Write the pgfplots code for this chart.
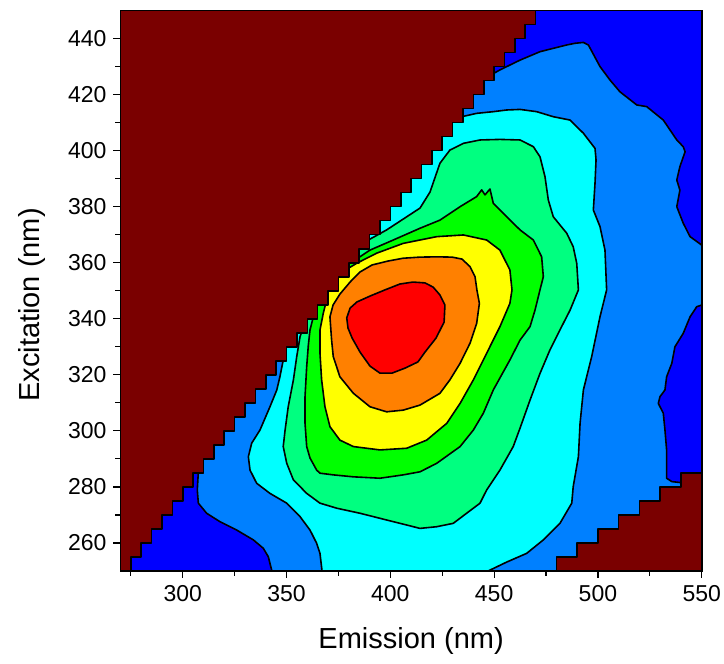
\documentclass[border=0pt]{standalone}
\usepackage{fontspec}
\setmainfont{Liberation Sans}
\usepackage{pgfplots}
\pgfplotsset{compat=1.18}
\definecolor{cmaroon}{HTML}{7A0000}
\definecolor{cblue}{HTML}{0000FF}
\definecolor{cmblue}{HTML}{0080FF}
\definecolor{ccyan}{HTML}{00FFFF}
\definecolor{cspring}{HTML}{00FF80}
\definecolor{cgreen}{HTML}{00FF00}
\definecolor{cyellow}{HTML}{FFFF00}
\definecolor{corange}{HTML}{FF8000}
\definecolor{cred}{HTML}{FF0000}
\tikzset{lev/.style={draw=black, line width=0.8pt, line join=round}}
\begin{document}
\begin{tikzpicture}
\begin{axis}[
  scale only axis, width=290.6pt, height=280.25pt,
  xmin=270, xmax=550, ymin=250, ymax=450,
  xtick={300,350,...,550}, minor xtick={275,325,...,525},
  ytick={260,280,...,440}, minor ytick={270,290,...,430},
  tick align=outside, tick pos=left,
  major tick length=3.5pt, minor tick length=2.5pt,
  every tick/.style={black, line width=0.6pt},
  axis line style={line width=0.8pt},
  axis background/.style={fill=cblue},
  axis on top,
  /pgf/number format/assume math mode=true,
  tick label style={font=\fontsize{11.5}{13}\selectfont},
  label style={font=\fontsize{14.5}{17}\selectfont},
  xlabel={Emission (nm)}, ylabel={Excitation (nm)},
  xlabel style={at={(axis description cs:0.5,-0.1374)}, anchor=base},
  ylabel style={at={(axis description cs:-0.1385,0.4746)}, anchor=base},
]
% level 1
\addplot[lev, fill=cmblue] coordinates {
(342.8,240) (342.8,250.4) (341.2,255.1) (338.8,258.1) (334.0,261.1) (326.0,264.6)
(317.9,267.6) (311.5,270.6) (307.5,274.2) (307.0,278.9) (307.5,285.4) (284.2,289.6)
(356.5,425.8) (445.6,425.8) (452.8,428.8) (462.5,432.3) (472.1,435.3) (478.5,436.5)
(485.0,437.7) (489.0,438.3) (493.0,438.6) (495.4,437.7) (501.0,430.0) (505.8,425.2)
(510.6,421.0) (518.7,416.3) (523.5,415.7) (531.5,410.9) (538.0,403.8) (541.1,401.4)
(542.0,399.6) (539.5,394.3) (538.0,389.5) (539.5,385.9) (538.0,380.0) (541.1,374.1)
(544.4,369.3) (550.0,366.3) (560,366.3) (560,344.9) (550.0,344.9) (547.6,344.3)
(544.4,340.7) (541.1,334.8) (537.1,330.0) (535.6,324.1) (533.1,319.3) (532.3,314.6)
(529.9,312.2) (529.1,309.8) (531.5,306.3) (532.3,300.3) (533.1,293.2) (533.1,286.0)
(533.1,283.1) (535.6,281.9) (540.4,281.5) (545,278) (545,240)
} -- cycle;
% level 2
\addplot[lev, fill=ccyan] coordinates {
(367.1,240) (367.1,250) (366.1,256.3) (364.5,259.9) (361.3,264.6) (356.5,269.4)
(350.1,274.2) (342.0,277.7) (335.6,281.3) (332.4,286.0) (331.6,290.8) (333.2,295.6)
(337.2,300.3) (342.0,308.6) (345.3,314.6) (346.8,319.3) (348.4,325.3) (332.4,346.7)
(404.7,412.1) (434.4,412.1) (441.6,413.3) (449.6,413.9) (456.1,414.5) (462.5,414.7)
(470.5,413.9) (478.5,412.1) (486.6,410.9) (493.0,406.2) (498.6,400.8) (499.1,396.7)
(498.6,388.3) (497.8,378.8) (501.0,372.9) (503.4,364.5) (504.2,350.3) (501.0,340.7)
(497.0,326.5) (493.0,314.6) (491.4,302.7) (490.6,290.8) (488.1,280.1) (487.4,274.2)
(481.7,267.0) (473.7,261.1) (465.7,256.3) (456.1,253.2) (447.1,250) (447.1,240)
} -- cycle;
% level 3
\addplot[lev, fill=cspring] coordinates {
(358.1,337.2) (346.8,346.7) (375.7,368.1) (389.4,368.1) (398.2,371.7) (407.9,376.4)
(414.3,379.5) (419.1,385.2) (423.9,395.5) (428.7,400.2) (435.2,402.6) (443.2,403.8)
(452.8,404.0) (462.5,403.8) (468.9,401.4) (472.1,397.8) (474.5,390.7) (476.1,382.4)
(478.5,376.4) (485.0,370.5) (488.1,365.7) (489.8,359.8) (490.6,350.3) (486.6,343.1)
(481.7,336.0) (476.9,328.9) (472.1,320.5) (467.3,311.0) (462.5,301.0) (459.2,294.4)
(452.8,286.0) (446.4,278.9) (443.2,274.2) (430.3,267.0) (422.3,265.8) (414.3,265.2)
(407.9,266.4) (398.2,268.2) (385.4,270.6) (374.2,272.4) (366.1,274.2) (359.7,277.7)
(353.3,282.5) (350.1,288.4) (348.4,294.4) (349.3,300.3) (350.8,308.6) (353.3,318.2)
(354.9,326.5) (356.5,333.6)
} -- cycle;
% level 4
\addplot[lev, fill=cgreen] coordinates {
(362.9,340.7) (356.5,346.7) (370.9,359.8) (380.6,359.8) (390.2,364.5) (401.4,368.1)
(414.3,372.3) (423.9,375.2) (433.6,380.0) (441.6,383.6) (444.0,386.0) (445.6,384.2)
(448.0,386.3) (449.6,381.2) (456.1,376.4) (462.5,371.7) (468.9,368.1) (472.9,362.1)
(473.7,355.0) (472.1,350.3) (469.7,343.1) (467.3,337.2) (462.5,332.4) (457.6,325.3)
(449.6,314.6) (444.8,306.3) (440.0,300.3) (433.6,294.4) (422.3,288.4) (414.3,285.4)
(406.2,284.3) (395.0,283.1) (382.2,283.6) (372.5,284.3) (366.1,284.9) (364.5,286.0)
(361.3,290.3) (359.7,294.4) (358.9,302.7) (358.9,312.2) (359.7,322.9) (360.5,330.6)
(361.3,336.0)
} -- cycle;
% level 5
\addplot[lev, fill=cyellow] coordinates {
(369.3,346.7) (363.7,350.3) (370.9,357.4) (375.7,356.2) (383.8,359.8) (393.4,363.4)
(406.2,366.9) (422.3,369.3) (435.2,369.9) (446.4,368.1) (452.8,364.5) (457.6,357.4)
(458.6,350.3) (457.6,345.5) (452.8,337.2) (446.4,327.7) (440.0,318.2) (433.6,309.8)
(427.2,302.7) (417.5,296.7) (407.9,293.8) (395.0,293.2) (382.2,294.4) (375.7,296.7)
(370.9,301.5) (368.5,308.6) (366.9,318.2) (366.1,327.7) (366.1,336.0) (367.7,342.0)
} -- cycle;
% level 6
\addplot[lev, fill=corange] coordinates {
(370.9,340.7) (372.4,344.9) (375.7,348.8) (380.6,353.1) (385.4,356.7) (391.2,359.2)
(398.9,360.6) (406.1,361.6) (414.3,362.0) (422.5,362.1) (429.7,362.0) (434.5,361.3)
(438.4,358.6) (440.8,355.0) (441.7,350.3) (442.9,345.5) (441.6,338.4) (438.4,331.3)
(433.6,324.1) (428.7,318.2) (423.9,313.4) (414.3,309.2) (406.2,307.4) (398.2,306.8)
(390.2,308.6) (382.2,313.4) (375.7,319.3) (372.5,326.5) (371.7,332.4)
} -- cycle;
% level 7
\addplot[lev, fill=cred] coordinates {
(379.0,340.3) (380.6,343.8) (383.9,346.0) (390.2,348.1) (397.4,350.3) (404.6,352.4)
(410.9,353.1) (416.7,352.8) (420.6,351.3) (423.9,348.5) (426.3,344.9) (425.9,338.8)
(422.0,333.1) (416.7,328.1) (413.3,324.6) (407.1,322.4) (400.8,320.6) (395.0,320.6)
(390.2,323.1) (385.4,328.1) (381.6,333.1) (379.6,336.7)
} -- cycle;
% scatter regions
\addplot[lev, fill=cmaroon] coordinates {
(265,245) (275,245)
(275,255) (280,255) (280,260) (285,260) (285,265) (290,265) (290,270) (295,270)
(295,275) (300,275) (300,280) (305,280) (305,285) (310,285) (310,290) (315,290)
(315,295) (320,295) (320,300) (325,300) (325,305) (330,305) (330,310) (335,310)
(335,315) (340,315) (340,320) (345,320) (345,325) (350,325) (350,330) (355,330)
(355,335) (360,335) (360,340) (365,340) (365,345) (370,345) (370,350) (375,350)
(375,355) (380,355) (380,360) (385,360) (385,365) (390,365) (390,370) (395,370)
(395,375) (400,375) (400,380) (405,380) (405,385) (410,385) (410,390) (415,390)
(415,395) (420,395) (420,400) (425,400) (425,405) (430,405) (430,410) (435,410)
(435,415) (440,415) (440,420) (445,420) (445,425) (450,425) (450,430) (455,430)
(455,435) (460,435) (460,440) (465,440) (465,445) (470,445) (470,455) (265,455)
} -- cycle;
\addplot[lev, fill=cmaroon] coordinates {
(480,245) (480,255) (490,255) (490,260) (500,260) (500,265) (510,265) (510,270)
(520,270) (520,275) (530,275) (530,280) (540,280) (540,285) (555,285) (555,245)
} -- cycle;
\end{axis}
\pgfresetboundingbox
\path[use as bounding box] ([shift={(-60.25pt,-46.5pt)}]current axis.south west)
  rectangle ([shift={(11.15pt,5.25pt)}]current axis.north east);
\end{tikzpicture}
\end{document}
